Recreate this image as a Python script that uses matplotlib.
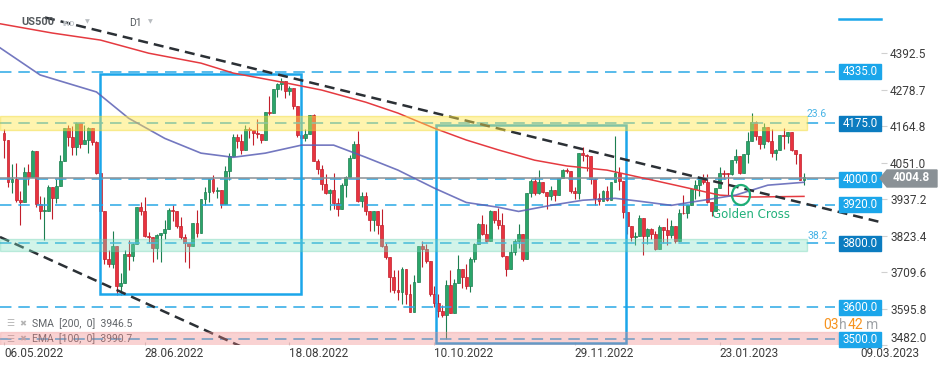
import numpy as np
import matplotlib.pyplot as plt
from matplotlib.patches import Rectangle, Ellipse, Polygon
from matplotlib.lines import Line2D

plt.rcParams['font.family'] = ['Roboto', 'DejaVu Sans']

# US500, D1 candles 06.05.2022 .. 22.02.2023 (open = previous close)
first_open = 4145
close = [4123, 3991, 4001, 3935, 3930, 4023, 4008, 4088, 3923, 3901, 3901, 3974, 3941, 3979, 4058, 4158, 4132,
         4101, 4176, 4109, 4121, 4161, 4116, 4018, 3901, 3750, 3735, 3790, 3667, 3675, 3765, 3760, 3796, 3912, 3900, 3821, 3819, 3785,
         3825, 3831, 3845, 3903, 3899, 3855, 3819, 3801, 3790, 3863, 3831, 3937, 3960, 3999, 3962, 3967, 3921, 4024, 4072, 4130,
         4119, 4091, 4155, 4152, 4145, 4140, 4122, 4210, 4207, 4280, 4297, 4305, 4275, 4284, 4228, 4138, 4128, 4141, 4199, 4058, 4031, 3986, 3955,
         3967, 3924, 3908, 3980, 4006, 4067, 4110, 3932, 3946, 3901, 3873, 3900, 3856, 3790, 3758, 3693, 3655, 3647, 3719, 3640, 3586,
         3678, 3791, 3783, 3745, 3640, 3612, 3589, 3577, 3669, 3583, 3677, 3720, 3695, 3666, 3752, 3797, 3859, 3830, 3807, 3901, 3872,
         3856, 3760, 3720, 3771, 3807, 3828, 3749, 3956, 3993, 3957, 3992, 3959, 3947, 3965, 3950, 4003, 4027, 4026, 3964, 3958,
         4080, 4076, 4072, 3999, 3941, 3933, 3963, 3934, 3991, 4019, 3995, 3896, 3852, 3818, 3821, 3878, 3822, 3845, 3829, 3783, 3849, 3840,
         3824, 3853, 3808, 3895, 3893, 3919, 3969, 3983, 3999, 3991, 3928, 3899, 3972, 4019, 4017, 4016, 4060, 4071, 4018, 4077,
         4119, 4179, 4136, 4111, 4164, 4118, 4082, 4090, 4137, 4136, 4148, 4090, 4079, 3997, 4005]
high = [4157, 4081, 4048, 4049, 3964, 4039, 4047, 4090, 4076, 3946, 3943, 3981, 3955, 3999, 4075, 4158, 4168,
        4167, 4177, 4143, 4169, 4164, 4160, 4120, 3975, 3838, 3778, 3837, 3707, 3707, 3779, 3809, 3802, 3913, 3928, 3945, 3836, 3808,
        3829, 3832, 3873, 3910, 3918, 3881, 3881, 3830, 3796, 3864, 3903, 3939, 3975, 4000, 4013, 3975, 3962, 4040, 4080, 4141,
        4141, 4140, 4168, 4162, 4151, 4187, 4137, 4211, 4258, 4280, 4301, 4315, 4303, 4292, 4259, 4196, 4160, 4156, 4200, 4203, 4062, 4044, 4015,
        3970, 4019, 3942, 3987, 4010, 4076, 4119, 4150, 3959, 3959, 3876, 3900, 3880, 3907, 3799, 3727, 3715, 3717, 3727, 3687, 3671,
        3699, 3791, 3807, 3797, 3708, 3665, 3640, 3608, 3685, 3715, 3689, 3762, 3703, 3736, 3757, 3799, 3862, 3887, 3859, 3905, 3893,
        3911, 3894, 3750, 3796, 3813, 3860, 3818, 3958, 4001, 4008, 4028, 3983, 3954, 3979, 3962, 4004, 4033, 4035, 4013, 3976,
        4080, 4101, 4077, 4053, 4002, 3957, 3966, 3977, 3991, 4135, 4039, 3946, 3864, 3854, 3834, 3889, 3864, 3846, 3846, 3838, 3858, 3840,
        3878, 3873, 3839, 3907, 3951, 3919, 3970, 3998, 4003, 4015, 4015, 3919, 3973, 4039, 4028, 4019, 4061, 4094, 4063, 4077,
        4148, 4205, 4182, 4124, 4176, 4157, 4156, 4094, 4139, 4159, 4148, 4136, 4081, 4051, 4018]
low = [4067, 3975, 3957, 3928, 3858, 3937, 3983, 4033, 3912, 3876, 3810, 3909, 3875, 3925, 3985, 4077, 4104,
       4074, 4074, 4098, 4110, 4081, 4107, 4017, 3900, 3735, 3724, 3722, 3639, 3637, 3705, 3717, 3743, 3821, 3889, 3820, 3799, 3741,
       3752, 3742, 3813, 3858, 3869, 3846, 3812, 3742, 3722, 3817, 3819, 3861, 3920, 3930, 3955, 3941, 3911, 3951, 3998, 4080,
       4097, 4079, 4107, 4128, 4107, 4128, 4112, 4177, 4201, 4219, 4256, 4277, 4254, 4262, 4219, 4130, 4124, 4119, 4147, 4057, 4017, 3965, 3954,
       3903, 3907, 3886, 3906, 3945, 4022, 4083, 3928, 3912, 3889, 3837, 3839, 3827, 3789, 3750, 3647, 3645, 3623, 3610, 3610, 3584,
       3585, 3678, 3727, 3739, 3634, 3600, 3568, 3570, 3500, 3581, 3645, 3686, 3659, 3656, 3647, 3741, 3800, 3826, 3803, 3809, 3863,
       3843, 3758, 3698, 3722, 3764, 3786, 3745, 3859, 3944, 3949, 3953, 3955, 3906, 3935, 3933, 3956, 4003, 4020, 3956, 3937,
       3939, 4057, 4026, 3984, 3919, 3918, 3935, 3933, 3935, 3994, 3965, 3878, 3827, 3807, 3795, 3828, 3764, 3796, 3813, 3780, 3805, 3801,
       3795, 3815, 3802, 3809, 3890, 3877, 3928, 3937, 3947, 3984, 3926, 3886, 3899, 3971, 3999, 3949, 4014, 4049, 4015, 4021,
       4050, 4141, 4123, 4094, 4096, 4115, 4070, 4060, 4092, 4095, 4113, 4089, 4047, 3996, 3983]

# moving averages (bar index, value)
sma_idx = [-1, 12, 24, 36, 49, 57, 69, 79, 90, 98, 107, 115, 123, 132, 140, 150, 158, 167, 178, 186, 199]
sma_val = [4485, 4456, 4434, 4393, 4362, 4331, 4303, 4278, 4240, 4206, 4159, 4122, 4091, 4059, 4041, 4028, 4006, 3981, 3950, 3944, 3946]
ema_idx = [-1, 9, 23, 31, 40, 49, 57, 65, 74, 82, 90, 98, 107, 115, 123, 128, 136, 144, 152, 158, 166, 174, 182, 190, 199]
ema_val = [4410, 4325, 4272, 4190, 4127, 4081, 4068, 4081, 4106, 4106, 4068, 4028, 3972, 3927, 3912, 3899, 3918, 3934, 3940, 3931, 3918, 3934, 3950, 3981, 3990]

date_ticks = [0, 35, 71, 107, 142, 178, 213]
date_labels = ['06.05.2022', '28.06.2022', '18.08.2022', '10.10.2022', '29.11.2022', '23.01.2023', '09.03.2023']
price_ticks = [4392.5, 4278.7, 4164.8, 4051.0, 3937.2, 3823.4, 3709.6, 3595.8, 3482.0]
levels = [4335.0, 4175.0, 4000.0, 3920.0, 3800.0, 3600.0, 3500.0]
dark_levels = [4175.0, 3800.0]
last_price = 4004.8
sma_last = 3946.5
ema_last = 3990.7

# pixel <-> data helpers for the drawing tools
W, H = 949, 370
X0, DX = 4, 4.02
PPT = 0.3203
YBOT = 3482.0
def xi(px):
    return (px - X0) / DX
def pr(py):
    return YBOT + (345 - py) / PPT

GREEN, GREEN_D = '#2aa56a', '#1d7f50'
RED, RED_D = '#e8333f', '#c21f2b'
BLUE = '#1ba6ea'

fig = plt.figure(figsize=(W / 100, H / 100), dpi=100)
ax = fig.add_axes([0, 25 / H, 887 / W, 345 / H])
ax.set_xlim(xi(0), xi(887))
ax.set_ylim(YBOT, pr(0))
for s in ax.spines.values():
    s.set_visible(False)

# candles
c = np.array(close, float)
o = np.array([first_open] + close[:-1], float)
h = np.maximum(np.array(high, float), np.maximum(o, c))
l = np.minimum(np.array(low, float), np.minimum(o, c))
idx = np.arange(len(c))
up = c >= o
face = np.where(up, GREEN, RED)
edge = np.where(up, GREEN_D, RED_D)
ax.vlines(idx, l, h, colors=edge, lw=0.8, zorder=3)
ax.bar(idx, np.maximum(np.abs(c - o), 2.5), bottom=np.minimum(o, c), width=0.72,
       color=face, edgecolor=edge, lw=0.5, zorder=3.1)

# moving averages
ax.plot(sma_idx, sma_val, color='#e53a40', lw=1.1, zorder=4)
ax.plot(ema_idx, ema_val, color='#5b60b5', lw=1.2, alpha=0.85, zorder=4)

# horizontal levels
for lv in levels:
    ax.plot([xi(0), xi(835)], [lv, lv], color='#2aa8e6', lw=1.1, dashes=(7.5, 4.5), zorder=3.5)
    box = Rectangle((xi(839), lv - 7.5 / PPT), xi(881) - xi(839), 15 / PPT,
                    color='#0b7cc0' if lv in dark_levels else BLUE, zorder=8, clip_on=False)
    ax.add_patch(box)
    ax.text(xi(860), lv, f'{lv:.1f}', color='white', fontsize=8.3, ha='center', va='center', zorder=9)

# current price
ax.plot([xi(0), xi(839)], [last_price, last_price], color='#8a9095', lw=1.1, zorder=3.6)
pts = [(880, 178.4), (887, 170), (937, 170), (937, 187), (887, 187)]
ax.add_patch(Polygon([(xi(x), pr(y)) for x, y in pts], closed=True, color='#8a9196',
                     zorder=8, clip_on=False))
ax.text(xi(911), last_price, f'{last_price:.1f}', color='white', fontsize=8.5,
        fontweight='bold', ha='center', va='center', zorder=9, clip_on=False)

# blue boxes
ax.add_patch(Rectangle((xi(100), pr(294)), xi(301) - xi(100), pr(74.5) - pr(294),
                       fill=False, edgecolor=BLUE, lw=1.8, zorder=3.7))
ax.add_patch(Rectangle((xi(436), pr(343)), xi(626) - xi(436), pr(125) - pr(343),
                       fill=False, edgecolor=BLUE, lw=1.8, zorder=3.7))

# trend lines
ax.plot([xi(45), xi(880)], [pr(17.5), pr(222)], color='#2b3035', lw=1.8, dashes=(4, 2.4), zorder=4.5)
ax.plot([xi(0), xi(240)], [pr(237), pr(346)], color='#2b3035', lw=1.8, dashes=(4, 2.4), zorder=4.5)

# legend rows (under the pink zone)
ax.text(xi(6), pr(324), '☰', family='DejaVu Sans', color='#b4b4b4', fontsize=6.5, va='center', zorder=5)
ax.text(xi(19), pr(324), '✖', family='DejaVu Sans', color='#b4b4b4', fontsize=6, va='center', zorder=5)
ax.text(xi(32), pr(324), f'SMA  [200,  0]  {sma_last}', color='#606468', fontsize=7.5, va='center', zorder=5)
ax.text(xi(6), pr(339), '☰', family='DejaVu Sans', color='#b4b4b4', fontsize=6.5, va='center', zorder=5)
ax.text(xi(19), pr(339), '✖', family='DejaVu Sans', color='#b4b4b4', fontsize=6, va='center', zorder=5)
ax.text(xi(32), pr(339), f'EMA  [100,  0]  {ema_last}', color='#606468', fontsize=7.5, va='center', zorder=5)

# zones
ax.add_patch(Rectangle((xi(0), pr(129.5)), xi(807) - xi(0), pr(116.5) - pr(129.5),
                       facecolor='#ffe84d', alpha=0.45, edgecolor='#f0d830', lw=1.0, zorder=6))
ax.add_patch(Rectangle((xi(0), pr(250.5)), xi(807) - xi(0), pr(239.5) - pr(250.5),
                       facecolor='#7fe0c0', alpha=0.35, edgecolor='#5fd0ac', lw=1.0, zorder=6))
ax.add_patch(Rectangle((xi(0), pr(346)), xi(838) - xi(0), pr(332) - pr(346),
                       facecolor='#f08080', alpha=0.35, edgecolor='#ec9090', lw=1.0, zorder=6))
ax.text(xi(807), pr(114), '23.6', color='#46b3e6', fontsize=7.5, va='center', zorder=7)
ax.text(xi(807), pr(236), '38.2', color='#46b3e6', fontsize=7.5, va='center', zorder=7)

# golden cross
ax.add_patch(Ellipse((xi(741), pr(195)), xi(750) - xi(732), pr(185) - pr(205),
                     fill=False, edgecolor='#1fae76', lw=1.6, zorder=7))
ax.text(xi(751), pr(215), 'Golden Cross', family='DejaVu Sans', color='#20b07a',
        fontsize=8.5, ha='center', va='center', zorder=7)

# axes ticks
ax.yaxis.set_ticks_position('right')
ax.set_yticks(price_ticks)
ax.set_yticklabels([f'{p:.1f}' for p in price_ticks])
ax.get_yticklabels()[-1].set_va('bottom')
ax.tick_params(axis='y', direction='in', length=4.3, width=0.8, color='#d0d0d0',
               pad=2.2, labelsize=8.5, labelcolor='#3c3c3c')
ax.set_xticks(date_ticks)
ax.set_xticklabels(date_labels, ha='left')
ax.tick_params(axis='x', direction='in', length=2.2, width=0.8, color='#d0d0d0',
               pad=1.5, labelsize=8.5, labelcolor='#3c3c3c')

# header and countdown
def fx(px):
    return px / W
def fy(py):
    return 1 - py / H
fig.text(fx(21), fy(22), 'US500', color='#555a5e', fontsize=8, fontweight='bold', va='center')
fig.text(fx(63), fy(23), 'IND', color='#c4c8cc', fontsize=5.5, fontweight='bold', va='center')
fig.text(fx(85), fy(22), '▼', family='DejaVu Sans', color='#b8bcc0', fontsize=4.5, va='center')
fig.text(fx(129), fy(23), 'D1', color='#555a5e', fontsize=7.5, va='center')
fig.text(fx(148), fy(22), '▼', family='DejaVu Sans', color='#b8bcc0', fontsize=4.5, va='center')
fig.add_artist(Line2D([fx(839), fx(881)], [fy(18.7), fy(18.7)], color=BLUE, lw=1.8))
fig.text(fx(823), fy(325), '03', color='#f7931e', fontsize=10, va='center')
fig.text(fx(839), fy(325), 'h', color='#a0a4a8', fontsize=10, va='center')
fig.text(fx(848), fy(325), '42', color='#f7931e', fontsize=10, va='center')
fig.text(fx(866), fy(325), 'm', color='#a0a4a8', fontsize=10, va='center')

fig.savefig('out.png', dpi=100)
